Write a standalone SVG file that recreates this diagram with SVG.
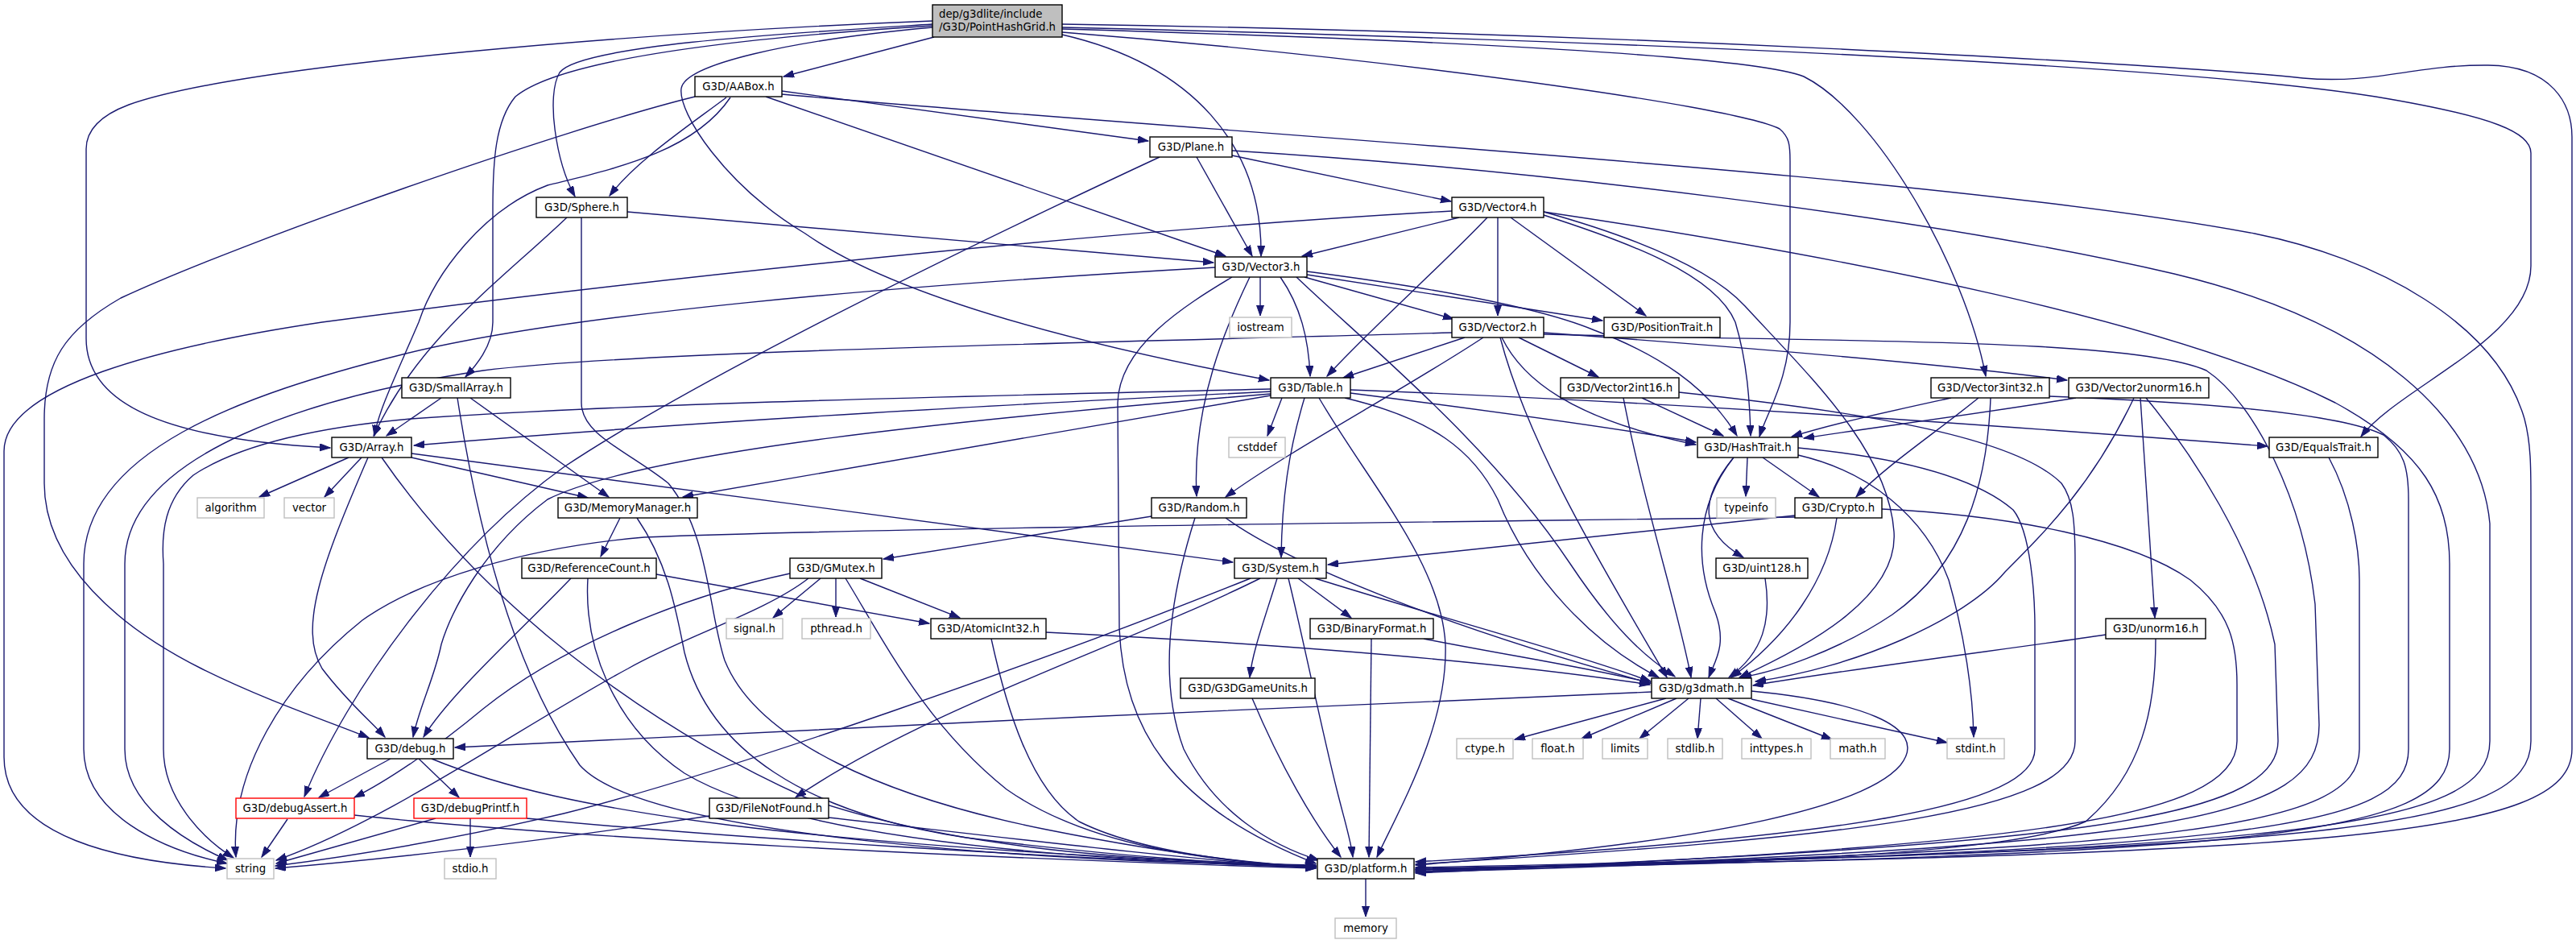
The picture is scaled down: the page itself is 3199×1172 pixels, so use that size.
<svg xmlns="http://www.w3.org/2000/svg" width="3199" height="1172" viewBox="0 0 3199 1172">
<style>
.e{fill:none;stroke:#191970;stroke-width:1.4}
.n rect{fill:#fff;stroke:#000;stroke-width:1.4}
.x rect{fill:#fff;stroke:#bfbfbf;stroke-width:1.4}
.r rect{fill:#fff;stroke:#f00;stroke-width:1.4}
.root rect{fill:#bfbfbf;stroke:#000;stroke-width:1.4}
text{font-family:"DejaVu Sans","Liberation Sans",sans-serif;font-size:13.3px;fill:#000;text-anchor:middle}
.root text{text-anchor:start}
</style>
<defs>
<marker id="a" markerUnits="userSpaceOnUse" markerWidth="14" markerHeight="10" refX="13" refY="4.5" orient="auto">
<path d="M0,0 L13,4.5 L0,9 z" fill="#191970" stroke="#191970" stroke-width="1"/>
</marker>
</defs>
<rect width="3199" height="1172" fill="#fff"/>
<g id="connectors" class="e" marker-end="url(#a)">
<path d="M1160,46 L973,95"/>
<path d="M1158,30 C1000,40 720,55 695,90 C678,118 690,200 714,244"/>
<path d="M1158,32 C950,45 700,70 640,120 C615,150 612,200 612,260 L612,400 C612,430 590,455 578,468"/>
<path d="M1158,26 C800,40 300,80 160,130 C120,145 107,165 107,185 L107,420 C107,500 200,545 410,556"/>
<path d="M1158,34 C980,50 850,80 846,110 C842,140 900,230 1000,290 C1100,360 1300,420 1576,472"/>
<path d="M1319,43 C1480,80 1568,180 1566,318"/>
<path d="M1319,40 C1700,70 2150,130 2210,160 C2222,170 2223,180 2223,200 L2223,400 C2223,470 2195,510 2185,542"/>
<path d="M1319,36 C1800,50 2180,70 2240,95 C2330,140 2440,330 2466,467"/>
<path d="M1319,34 C2000,50 2700,80 2950,120 C3100,145 3143,165 3143,190 L3143,330 C3143,420 2980,480 2932,542"/>
<path d="M1319,30 C2000,40 2700,80 2860,97 C2950,105 3000,80 3090,81 C3170,82 3194,130 3194,170 L3194,930 C3194,1040 2900,1060 1758,1078"/>
<path d="M971,113 L1426,175"/>
<path d="M951,120 L1522,318"/>
<path d="M902,121 C850,160 790,200 757,243"/>
<path d="M907,121 C860,190 760,210 680,230 C600,260 540,340 520,400 C490,470 470,510 465,541"/>
<path d="M863,120 C700,160 300,300 150,370 C80,410 55,450 55,520 L55,600 C55,700 150,780 250,830 C330,870 420,900 458,916"/>
<path d="M971,117 C1500,165 2400,215 2800,290 C2950,320 3100,400 3135,520 C3143,550 3143,580 3143,620 L3143,920 C3143,1030 2900,1055 1758,1077"/>
<path d="M1530,193 L1802,250"/>
<path d="M1486,195 L1555,318"/>
<path d="M1440,195 C1150,330 850,480 700,580 C560,680 430,860 378,989"/>
<path d="M1530,187 C1900,210 2400,270 2700,340 C2950,400 3080,520 3092,650 L3092,920 C3092,1030 2850,1055 1758,1079"/>
<path d="M779,263 L1507,326"/>
<path d="M704,270 C620,350 520,420 464,541"/>
<path d="M722,270 L722,500 C722,540 780,560 830,600 C880,660 880,760 900,820 C940,920 1100,990 1300,1030 C1450,1060 1550,1072 1634,1076"/>
<path d="M1812,270 L1617,318"/>
<path d="M1847,270 C1790,330 1700,410 1648,467"/>
<path d="M1860,270 L1860,392"/>
<path d="M1876,270 L2044,392"/>
<path d="M1917,267 C2020,300 2130,340 2155,400 C2170,450 2173,500 2174,541"/>
<path d="M1917,263 C2050,300 2130,340 2167,380 C2250,470 2345,560 2352,660 C2358,740 2250,800 2160,841"/>
<path d="M1917,263 C2300,320 2701,400 2900,500 C3010,560 3042,620 3042,700 L3042,930 C3042,1040 2800,1060 1758,1080"/>
<path d="M1803,262 C1300,290 700,360 400,400 C200,430 5,480 5,560 L5,940 C5,1040 150,1070 280,1078"/>
<path d="M1565,344 L1565,392"/>
<path d="M1620,344 L1805,396"/>
<path d="M1623,341 L1990,398"/>
<path d="M1590,344 C1615,380 1625,420 1627,467"/>
<path d="M1623,337 C1800,360 1920,385 1980,410 C2060,440 2120,480 2157,541"/>
<path d="M1552,344 C1525,400 1480,500 1486,616"/>
<path d="M1610,344 C1700,430 1850,550 1950,700 C2010,790 2050,820 2080,840"/>
<path d="M1509,332 C1100,355 700,390 500,440 C300,490 104,560 104,700 L104,930 C104,1010 200,1055 282,1072"/>
<path d="M1530,344 C1470,380 1390,430 1388,500 L1390,780 C1395,900 1450,1000 1634,1072"/>
<path d="M1819,419 L1668,469"/>
<path d="M1886,419 L1985,468"/>
<path d="M1842,419 C1750,480 1600,560 1522,617"/>
<path d="M1865,419 C1890,470 1950,520 2106,552"/>
<path d="M1863,419 C1900,560 2000,720 2070,841"/>
<path d="M1803,413 C1400,425 800,435 600,460 C400,490 155,560 155,700 L155,930 C155,1000 230,1045 283,1068"/>
<path d="M1917,413 C2150,430 2400,450 2567,472"/>
<path d="M1917,415 C2300,425 2650,420 2740,460 C2800,500 2860,620 2875,750 L2880,900 C2880,1020 2700,1050 1758,1082"/>
<path d="M1592,494 L1574,541"/>
<path d="M1578,486 C1300,500 900,520 514,553"/>
<path d="M1578,491 L848,617"/>
<path d="M1620,494 C1600,560 1592,620 1591,692"/>
<path d="M1677,488 C1850,510 2000,530 2106,549"/>
<path d="M1677,484 C2100,500 2500,530 2816,554"/>
<path d="M1670,494 C1780,520 1830,560 1860,620 C1900,720 1980,800 2060,841"/>
<path d="M1638,494 C1700,600 1790,700 1795,800 C1798,900 1740,1000 1710,1064"/>
<path d="M1578,489 C1200,520 800,560 680,620 C600,680 560,760 548,800 C540,840 520,880 513,915"/>
<path d="M1578,483 C1200,492 800,500 510,520 C400,530 300,550 240,590 C205,620 200,660 203,700 L203,930 C203,990 250,1040 290,1065"/>
<path d="M433,568 L322,617"/>
<path d="M449,568 L403,617"/>
<path d="M511,568 L730,618"/>
<path d="M511,563 L1531,698"/>
<path d="M457,568 C400,700 370,780 400,830 C430,870 460,895 478,915"/>
<path d="M474,568 C600,750 800,900 1000,990 C1200,1060 1450,1070 1634,1074"/>
<path d="M548,494 L480,541"/>
<path d="M584,494 L756,617"/>
<path d="M568,494 C600,700 650,850 720,950 C800,1040 1300,1070 1634,1075"/>
<path d="M770,643 L746,691"/>
<path d="M791,643 C830,700 840,760 850,810 C880,930 1000,1010 1200,1040 C1400,1065 1550,1074 1634,1075"/>
<path d="M709,718 C650,780 560,860 526,915"/>
<path d="M815,713 L1154,774"/>
<path d="M730,718 C725,800 760,900 850,960 C1000,1050 1400,1070 1634,1076"/>
<path d="M1019,718 L960,767"/>
<path d="M1038,718 L1038,766"/>
<path d="M1068,718 L1192,767"/>
<path d="M981,712 C850,740 700,800 600,880 C540,930 480,970 440,990"/>
<path d="M1004,718 C950,760 850,790 780,830 C650,900 480,1020 343,1068"/>
<path d="M1050,718 C1100,800 1150,900 1250,980 C1350,1050 1500,1070 1634,1076"/>
<path d="M1430,641 L1097,694"/>
<path d="M1484,643 C1450,750 1440,850 1470,930 C1510,1010 1580,1050 1638,1068"/>
<path d="M1522,643 C1600,700 1800,780 2049,848"/>
<path d="M1553,718 C1300,820 900,960 700,1010 C550,1045 420,1065 342,1075"/>
<path d="M1565,718 C1400,800 1150,880 988,990"/>
<path d="M1586,718 C1570,770 1555,810 1552,841"/>
<path d="M1600,718 C1620,800 1640,900 1660,980 C1670,1020 1678,1045 1680,1064"/>
<path d="M1612,718 L1678,767"/>
<path d="M1633,718 C1800,770 1950,810 2050,846"/>
<path d="M1299,785 C1600,800 1850,820 2049,850"/>
<path d="M1231,793 C1250,880 1280,980 1340,1020 C1420,1060 1550,1072 1634,1077"/>
<path d="M1703,793 L1700,1064"/>
<path d="M1768,793 C1880,815 1980,830 2050,848"/>
<path d="M1555,867 C1590,950 1630,1020 1665,1064"/>
<path d="M881,1013 C700,1040 500,1065 342,1078"/>
<path d="M1029,1015 C1250,1040 1450,1065 1634,1078"/>
<path d="M2170,568 L2168,616"/>
<path d="M2189,568 L2259,617"/>
<path d="M2153,568 C2110,620 2110,660 2165,692"/>
<path d="M2152,569 C2105,630 2105,700 2130,760 C2145,800 2130,820 2122,841"/>
<path d="M2233,565 C2320,585 2390,640 2420,720 C2440,790 2450,860 2451,915"/>
<path d="M2233,556 C2350,567 2450,590 2500,633 C2522,660 2527,740 2527,780 L2527,930 C2527,1000 2300,1040 1758,1070"/>
<path d="M2229,640 L1649,701"/>
<path d="M2281,643 C2270,720 2220,790 2150,841"/>
<path d="M2229,642 C1800,648 1100,655 800,667 C650,680 520,720 450,770 C350,850 285,960 293,1064"/>
<path d="M2337,632 C2500,640 2650,670 2720,720 C2770,760 2778,800 2778,850 L2778,920 C2778,1020 2500,1050 1758,1084"/>
<path d="M2192,718 C2200,770 2190,810 2147,841"/>
<path d="M2039,494 L2140,541"/>
<path d="M2016,494 C2040,620 2085,760 2100,841"/>
<path d="M2085,487 C2300,510 2500,540 2560,600 C2575,620 2577,650 2577,700 L2577,920 C2577,1010 2300,1040 1758,1073"/>
<path d="M2423,494 C2350,510 2280,525 2225,542"/>
<path d="M2457,494 C2400,540 2340,580 2305,617"/>
<path d="M2472,494 C2468,600 2440,700 2350,763 C2280,810 2200,835 2162,841"/>
<path d="M2545,492 C2700,498 2900,510 2960,540 C2985,560 2991,580 2991,620 L2991,930 C2991,1030 2800,1055 1758,1080"/>
<path d="M2578,494 C2450,515 2330,530 2240,544"/>
<path d="M2658,494 L2676,767"/>
<path d="M2650,494 C2600,600 2540,660 2490,710 C2440,770 2300,830 2180,846"/>
<path d="M2665,494 C2720,560 2800,680 2825,800 L2829,920 C2829,1020 2550,1050 1758,1082"/>
<path d="M2615,788 C2500,805 2300,830 2177,851"/>
<path d="M2677,793 C2677,880 2660,960 2590,1020 C2500,1060 2200,1070 1758,1083"/>
<path d="M2892,568 C2920,620 2930,680 2930,720 L2930,930 C2930,1030 2700,1055 1758,1080"/>
<path d="M2069,867 L1881,918"/>
<path d="M2082,867 L1964,917"/>
<path d="M2097,867 L2036,917"/>
<path d="M2112,867 L2108,917"/>
<path d="M2131,867 L2188,917"/>
<path d="M2146,867 L2275,918"/>
<path d="M2175,868 L2418,922"/>
<path d="M2051,859 C1600,878 1000,905 565,928"/>
<path d="M2175,858 C2300,870 2400,900 2360,950 C2300,1020 2000,1055 1758,1074"/>
<path d="M485,942 L396,990"/>
<path d="M520,942 L570,990"/>
<path d="M536,942 C700,1010 1000,1050 1634,1076"/>
<path d="M357,1017 L325,1064"/>
<path d="M440,1012 C700,1040 1200,1065 1634,1078"/>
<path d="M541,1016 L343,1072"/>
<path d="M584,1016 L584,1064"/>
<path d="M654,1016 C900,1040 1300,1065 1634,1077"/>
<path d="M1696,1091 L1696,1138"/>
</g>
<g id="n-root" class="root"><rect x="1158" y="6" width="161" height="40"/><text x="1166" y="22">dep/g3dlite/include</text><text x="1166" y="38">/G3D/PointHashGrid.h</text></g>
<g id="n-aabox" class="n"><rect x="863" y="95" width="108" height="25"/><text x="917" y="112">G3D/AABox.h</text></g>
<g id="n-plane" class="n"><rect x="1428" y="170" width="102" height="25"/><text x="1479" y="187">G3D/Plane.h</text></g>
<g id="n-sphere" class="n"><rect x="666" y="245" width="113" height="25"/><text x="722.5" y="262">G3D/Sphere.h</text></g>
<g id="n-vector4" class="n"><rect x="1803" y="245" width="114" height="25"/><text x="1860" y="262">G3D/Vector4.h</text></g>
<g id="n-vector3" class="n"><rect x="1509" y="319" width="114" height="25"/><text x="1566" y="336">G3D/Vector3.h</text></g>
<g id="n-iostream" class="x"><rect x="1527" y="394" width="77" height="25"/><text x="1565.5" y="411">iostream</text></g>
<g id="n-vector2" class="n"><rect x="1803" y="394" width="114" height="25"/><text x="1860" y="411">G3D/Vector2.h</text></g>
<g id="n-positiontrait" class="n"><rect x="1992" y="394" width="144" height="25"/><text x="2064" y="411">G3D/PositionTrait.h</text></g>
<g id="n-table" class="n"><rect x="1578" y="469" width="99" height="25"/><text x="1627.5" y="486">G3D/Table.h</text></g>
<g id="n-vector2int16" class="n"><rect x="1938" y="469" width="147" height="25"/><text x="2011.5" y="486">G3D/Vector2int16.h</text></g>
<g id="n-vector3int32" class="n"><rect x="2398" y="469" width="147" height="25"/><text x="2471.5" y="486">G3D/Vector3int32.h</text></g>
<g id="n-vector2unorm16" class="n"><rect x="2569" y="469" width="174" height="25"/><text x="2656" y="486">G3D/Vector2unorm16.h</text></g>
<g id="n-smallarray" class="n"><rect x="499" y="469" width="135" height="25"/><text x="566.5" y="486">G3D/SmallArray.h</text></g>
<g id="n-array" class="n"><rect x="412" y="543" width="99" height="25"/><text x="461.5" y="560">G3D/Array.h</text></g>
<g id="n-algorithm" class="x"><rect x="245" y="618" width="83" height="25"/><text x="286.5" y="635">algorithm</text></g>
<g id="n-vector" class="x"><rect x="353" y="618" width="62" height="25"/><text x="384" y="635">vector</text></g>
<g id="n-memorymanager" class="n"><rect x="693" y="618" width="173" height="25"/><text x="779.5" y="635">G3D/MemoryManager.h</text></g>
<g id="n-cstddef" class="x"><rect x="1526" y="543" width="70" height="25"/><text x="1561" y="560">cstddef</text></g>
<g id="n-hashtrait" class="n"><rect x="2108" y="543" width="125" height="25"/><text x="2170.5" y="560">G3D/HashTrait.h</text></g>
<g id="n-equalstrait" class="n"><rect x="2818" y="543" width="135" height="25"/><text x="2885.5" y="560">G3D/EqualsTrait.h</text></g>
<g id="n-typeinfo" class="x"><rect x="2132" y="618" width="73" height="25"/><text x="2168.5" y="635">typeinfo</text></g>
<g id="n-crypto" class="n"><rect x="2229" y="618" width="108" height="25"/><text x="2283" y="635">G3D/Crypto.h</text></g>
<g id="n-random" class="n"><rect x="1430" y="618" width="118" height="25"/><text x="1489" y="635">G3D/Random.h</text></g>
<g id="n-referencecount" class="n"><rect x="648" y="693" width="167" height="25"/><text x="731.5" y="710">G3D/ReferenceCount.h</text></g>
<g id="n-gmutex" class="n"><rect x="981" y="693" width="114" height="25"/><text x="1038" y="710">G3D/GMutex.h</text></g>
<g id="n-system" class="n"><rect x="1533" y="693" width="114" height="25"/><text x="1590" y="710">G3D/System.h</text></g>
<g id="n-uint128" class="n"><rect x="2131" y="693" width="114" height="25"/><text x="2188" y="710">G3D/uint128.h</text></g>
<g id="n-signal" class="x"><rect x="902" y="768" width="70" height="25"/><text x="937" y="785">signal.h</text></g>
<g id="n-pthread" class="x"><rect x="996" y="768" width="85" height="25"/><text x="1038.5" y="785">pthread.h</text></g>
<g id="n-atomicint32" class="n"><rect x="1156" y="768" width="143" height="25"/><text x="1227.5" y="785">G3D/AtomicInt32.h</text></g>
<g id="n-binaryformat" class="n"><rect x="1627" y="768" width="153" height="25"/><text x="1703.5" y="785">G3D/BinaryFormat.h</text></g>
<g id="n-unorm16" class="n"><rect x="2615" y="768" width="124" height="25"/><text x="2677" y="785">G3D/unorm16.h</text></g>
<g id="n-g3dgameunits" class="n"><rect x="1466" y="842" width="167" height="25"/><text x="1549.5" y="859">G3D/G3DGameUnits.h</text></g>
<g id="n-g3dmath" class="n"><rect x="2051" y="842" width="124" height="25"/><text x="2113" y="859">G3D/g3dmath.h</text></g>
<g id="n-debug" class="n"><rect x="456" y="917" width="107" height="25"/><text x="509.5" y="934">G3D/debug.h</text></g>
<g id="n-ctype" class="x"><rect x="1809" y="917" width="70" height="25"/><text x="1844" y="934">ctype.h</text></g>
<g id="n-float" class="x"><rect x="1903" y="917" width="63" height="25"/><text x="1934.5" y="934">float.h</text></g>
<g id="n-limits" class="x"><rect x="1990" y="917" width="56" height="25"/><text x="2018" y="934">limits</text></g>
<g id="n-stdlib" class="x"><rect x="2071" y="917" width="68" height="25"/><text x="2105" y="934">stdlib.h</text></g>
<g id="n-inttypes" class="x"><rect x="2163" y="917" width="86" height="25"/><text x="2206" y="934">inttypes.h</text></g>
<g id="n-math" class="x"><rect x="2273" y="917" width="68" height="25"/><text x="2307" y="934">math.h</text></g>
<g id="n-stdint" class="x"><rect x="2418" y="917" width="71" height="25"/><text x="2453.5" y="934">stdint.h</text></g>
<g id="n-debugassert" class="r"><rect x="293" y="991" width="147" height="25"/><text x="366.5" y="1008">G3D/debugAssert.h</text></g>
<g id="n-debugprintf" class="r"><rect x="514" y="991" width="140" height="25"/><text x="584" y="1008">G3D/debugPrintf.h</text></g>
<g id="n-filenotfound" class="n"><rect x="881" y="991" width="148" height="25"/><text x="955" y="1008">G3D/FileNotFound.h</text></g>
<g id="n-string" class="x"><rect x="282" y="1066" width="58" height="25"/><text x="311" y="1083">string</text></g>
<g id="n-stdio" class="x"><rect x="552" y="1066" width="64" height="25"/><text x="584" y="1083">stdio.h</text></g>
<g id="n-platform" class="n"><rect x="1636" y="1066" width="120" height="25"/><text x="1696" y="1083">G3D/platform.h</text></g>
<g id="n-memory" class="x"><rect x="1658" y="1140" width="76" height="25"/><text x="1696" y="1157">memory</text></g>
</svg>
